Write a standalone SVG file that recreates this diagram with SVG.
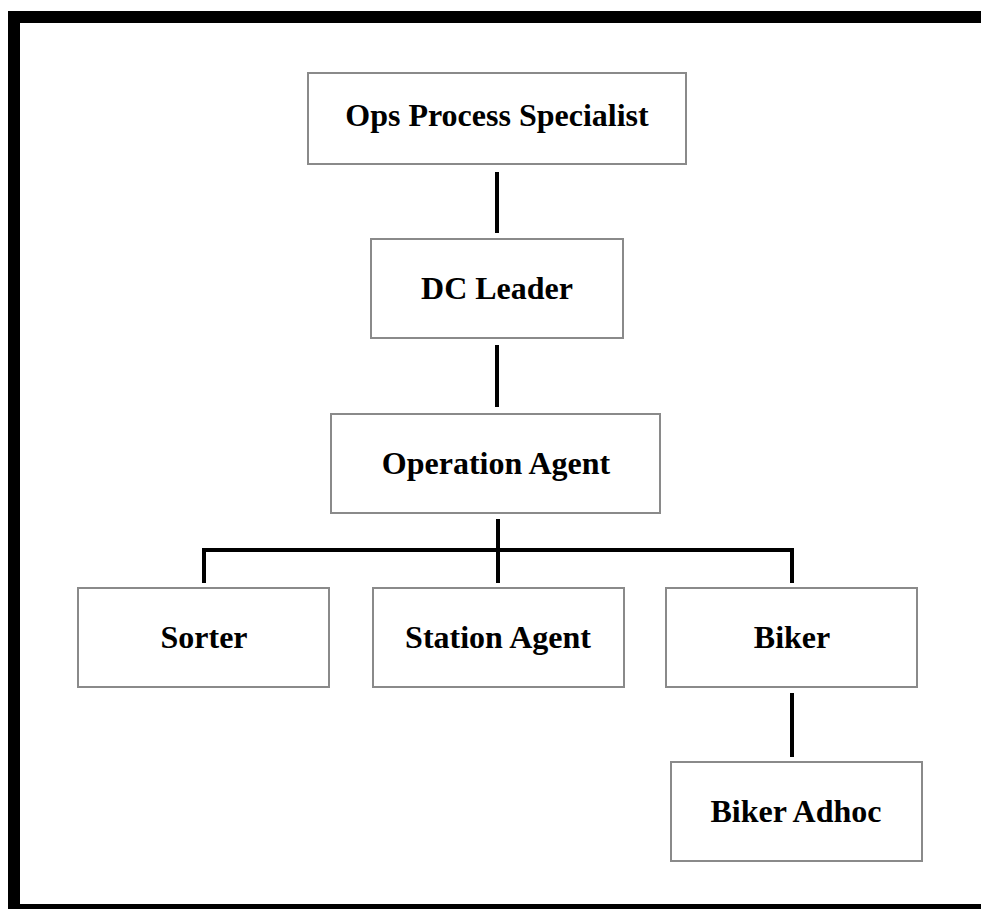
<svg xmlns="http://www.w3.org/2000/svg" width="981" height="909" viewBox="0 0 981 909">
<style>
.box{fill:#fff;stroke:#8a8a8a;stroke-width:2}
.lbl{font-family:"Liberation Serif","Times New Roman",serif;font-weight:bold;font-size:32px;fill:#000;text-anchor:middle}
.con{fill:none;stroke:#000;stroke-width:4}
</style>
<rect x="0" y="0" width="981" height="909" fill="#fff"/>
<rect x="14" y="17" width="1000" height="893" fill="none" stroke="#000" stroke-width="12"/>
<g id="connectors">
<line class="con" x1="497" y1="172" x2="497" y2="233"/>
<line class="con" x1="497" y1="345" x2="497" y2="407"/>
<line class="con" x1="498" y1="519" x2="498" y2="583"/>
<polyline class="con" points="204,583 204,550 792,550 792,583"/>
<line class="con" x1="792" y1="693" x2="792" y2="757"/>
</g>
<g id="ops"><rect class="box" x="308" y="73" width="378" height="91"/><text class="lbl" x="497" y="126">Ops Process Specialist</text></g>
<g id="dc"><rect class="box" x="371" y="239" width="252" height="99"/><text class="lbl" x="497" y="299">DC Leader</text></g>
<g id="oa"><rect class="box" x="331" y="414" width="329" height="99"/><text class="lbl" x="496" y="474">Operation Agent</text></g>
<g id="sorter"><rect class="box" x="78" y="588" width="251" height="99"/><text class="lbl" x="204" y="648">Sorter</text></g>
<g id="station"><rect class="box" x="373" y="588" width="251" height="99"/><text class="lbl" x="498" y="648">Station Agent</text></g>
<g id="biker"><rect class="box" x="666" y="588" width="251" height="99"/><text class="lbl" x="792" y="648">Biker</text></g>
<g id="adhoc"><rect class="box" x="671" y="762" width="251" height="99"/><text class="lbl" x="796" y="822">Biker Adhoc</text></g>
</svg>
